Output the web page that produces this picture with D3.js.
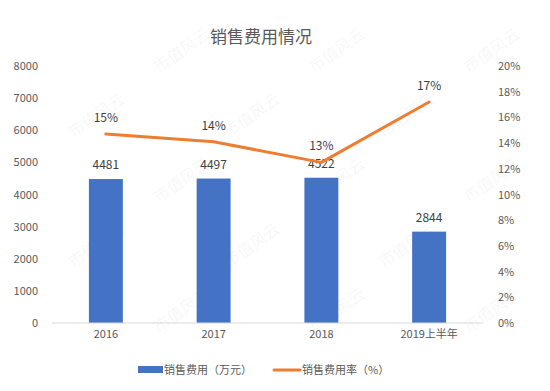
<!DOCTYPE html>
<html>
<head>
<meta charset="utf-8">
<script src="https://cdn.jsdelivr.net/npm/d3@7"></script>
<style>
  body { margin: 0; background: #fff; }
  text { font-family: "Noto Sans CJK SC", "Noto Sans", sans-serif; }
</style>
</head>
<body>
<div id="chart"></div>
<script>
const svgWidth = 550, svgHeight = 391,
    margin = { top: 66, right: 67, bottom: 68, left: 52 },
    width = svgWidth - margin.left - margin.right,
    height = svgHeight - margin.top - margin.bottom;

// data
let years = ["2016", "2017", "2018", "2019上半年"];
let salesCost = [4481, 4497, 4522, 2844];        // 万元
let costRate = [14.7, 14.1, 12.5, 17.2];          // %
let rateLabels = ["15%", "14%", "13%", "17%"];
let leftTicks = [0, 1000, 2000, 3000, 4000, 5000, 6000, 7000, 8000];
let rightTicks = [0, 2, 4, 6, 8, 10, 12, 14, 16, 18, 20];

const textColor = "#595959";

let svgRoot = d3.select("#chart").append("svg")
    .attr("width", svgWidth)
    .attr("height", svgHeight);

// watermark, only the copies that fit fully inside
let wm = svgRoot.append("g").attr("class", "watermark");
for (let r = 0; r < 7; r++) {
    for (let c = 0; c < 5; c++) {
        let x = c * 155 + (r % 2 === 0 ? 30 : 100),
            y = r * 65 + 55;
        if (x < 36 || x > 512 || y < 26 || y > 366) continue;
        wm.append("text")
            .attr("transform", `translate(${x},${y}) rotate(-35)`)
            .attr("text-anchor", "middle")
            .attr("font-size", 16)
            .attr("font-weight", 300)
            .attr("fill", "#000")
            .attr("opacity", 0.04)
            .text("市值风云");
    }
}

let svg = svgRoot.append("g")
    .attr("transform", "translate(" + margin.left + "," + margin.top + ")");

// title
svgRoot.append("text")
    .attr("x", 261)
    .attr("y", 43)
    .attr("text-anchor", "middle")
    .attr("font-size", 17)
    .attr("fill", textColor)
    .text("销售费用情况");

let xScale = d3.scaleBand()
    .domain(years)
    .range([0, width])
    .paddingInner(0.685)
    .paddingOuter(0.3425);

let yLeft = d3.scaleLinear().domain([0, 8000]).range([height, 0]);
let yRight = d3.scaleLinear().domain([0, 20]).range([height, 0]);

// left axis
let yAxisL = svg.append("g")
    .attr("transform", "translate(-11,0)")
    .call(d3.axisLeft(yLeft).tickValues(leftTicks).tickSize(0).tickFormat(d3.format("d")));
yAxisL.select(".domain").remove();
yAxisL.selectAll("text").attr("fill", textColor).attr("font-size", 11);

// right axis
let yAxisR = svg.append("g")
    .attr("transform", `translate(${width + 12},0)`)
    .call(d3.axisRight(yRight).tickValues(rightTicks).tickSize(0).tickFormat(d => d + "%"));
yAxisR.select(".domain").remove();
yAxisR.selectAll("text").attr("fill", textColor).attr("font-size", 11);

// bars
svg.selectAll("rect.bar")
    .data(salesCost)
    .join("rect")
    .attr("class", "bar")
    .attr("x", (d, i) => xScale(years[i]))
    .attr("width", xScale.bandwidth())
    .attr("y", d => yLeft(d))
    .attr("height", d => height - yLeft(d))
    .attr("fill", "#4472C4");

// baseline
svg.append("line")
    .attr("x1", 0).attr("x2", width)
    .attr("y1", height).attr("y2", height)
    .attr("stroke", "#d9d9d9")
    .attr("stroke-width", 1);

// x axis labels
let xAxis = svg.append("g")
    .attr("transform", `translate(0,${height + 4})`)
    .call(d3.axisBottom(xScale).tickSize(0));
xAxis.select(".domain").remove();
xAxis.selectAll("text").attr("fill", textColor).attr("font-size", 11);

// bar labels
svg.selectAll("text.barLabel")
    .data(salesCost)
    .join("text")
    .attr("class", "barLabel")
    .attr("x", (d, i) => xScale(years[i]) + xScale.bandwidth() / 2)
    .attr("y", d => yLeft(d) - 10)
    .attr("text-anchor", "middle")
    .attr("font-size", 12)
    .attr("fill", "#404040")
    .text(d => d);

// line
let line = d3.line()
    .x((d, i) => xScale(years[i]) + xScale.bandwidth() / 2)
    .y(d => yRight(d));

svg.append("path")
    .datum(costRate)
    .attr("d", line)
    .attr("fill", "none")
    .attr("stroke", "#ED7D31")
    .attr("stroke-width", 3)
    .attr("stroke-linejoin", "round")
    .attr("stroke-linecap", "round");

svg.selectAll("text.rateLabel")
    .data(costRate)
    .join("text")
    .attr("class", "rateLabel")
    .attr("x", (d, i) => xScale(years[i]) + xScale.bandwidth() / 2)
    .attr("y", d => yRight(d) - 12)
    .attr("text-anchor", "middle")
    .attr("font-size", 12)
    .attr("fill", "#404040")
    .text((d, i) => rateLabels[i]);

// legend
let legend = svgRoot.append("g");
legend.append("rect")
    .attr("x", 138).attr("y", 366)
    .attr("width", 25).attr("height", 7)
    .attr("fill", "#4472C4");
legend.append("text")
    .attr("x", 164).attr("y", 374)
    .attr("font-size", 11)
    .attr("fill", textColor)
    .text("销售费用（万元）");
legend.append("line")
    .attr("x1", 274).attr("x2", 300)
    .attr("y1", 370).attr("y2", 370)
    .attr("stroke", "#ED7D31")
    .attr("stroke-width", 3)
    .attr("stroke-linecap", "round");
legend.append("text")
    .attr("x", 302).attr("y", 374)
    .attr("font-size", 11)
    .attr("fill", textColor)
    .text("销售费用率（%）");
</script>
</body>
</html>
